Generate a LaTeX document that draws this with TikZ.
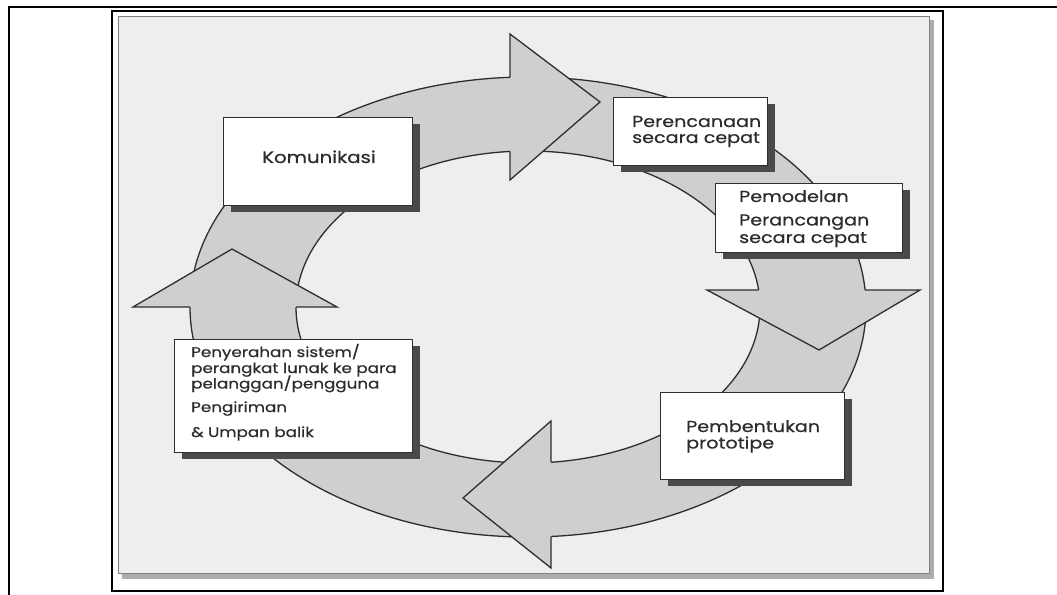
\documentclass[tikz,border=0pt]{standalone}
\usepackage{fontspec}
\setmainfont{Poppins}[FakeStretch=1.2,FakeBold=0.6]
\usetikzlibrary{shadows}
\definecolor{ringgray}{HTML}{CFCFCF}
\definecolor{bggray}{HTML}{EEEEEE}
\definecolor{inkgray}{HTML}{2E2E2E}
\definecolor{shadowgray}{HTML}{4A4A4A}
\definecolor{txtgray}{HTML}{2C2C2C}
\begin{document}
\begin{tikzpicture}[x=1bp,y=-1bp,line join=miter,
  stepbox/.style={draw=inkgray,fill=white,line width=0.9bp,inner sep=0pt,rectangle,
    drop shadow={shadow xshift=8bp,shadow yshift=-7bp,fill=shadowgray,opacity=1}},
  lbl/.style={text=txtgray,font=\fontsize{16}{18}\selectfont,inner sep=0pt,anchor=base west},
  lblbig/.style={lbl,font=\fontsize{16.5}{18}\selectfont},
  lblsmall/.style={lbl,font=\fontsize{14}{16}\selectfont},
  ringline/.style={draw=inkgray,line width=1.3bp},
  headfill/.style={fill=ringgray},
]
\useasboundingbox (0,0) rectangle (1057,595);
\fill[white] (0,0) rectangle (1057,595);
% page lines
\draw[line width=1.6bp] (1057,7) -- (9,7) -- (9,595);
% frame and photo
\draw[line width=2.4bp] (112,11) rectangle (943,591);
\fill[gray!65] (122,20) rectangle (934,579);
\fill[bggray] (118,16) rectangle (929,573);
\draw[gray,line width=0.8bp] (118,16) rectangle (929,573);
% ring
\fill[ringgray,even odd rule] (528,307) ellipse [x radius=338bp,y radius=230bp]
  (528,307) ellipse [x radius=232bp,y radius=156bp];
\draw[ringline] (528,307) ellipse [x radius=338bp,y radius=230bp];
\draw[ringline] (528,307) ellipse [x radius=232bp,y radius=156bp];
% arrowheads
\fill[headfill] (510,34) -- (600,102) -- (510,180) -- cycle;
\draw[ringline] (510,77.3) -- (510,34) -- (600,102) -- (510,180) -- (510,151.5);
\fill[headfill] (707,290) -- (819,350) -- (920,290) -- cycle;
\draw[ringline] (758.6,290) -- (707,290) -- (819,350) -- (920,290) -- (865.1,290);
\fill[headfill] (551,421) -- (463,498) -- (551,568) -- cycle;
\draw[ringline] (551,462.2) -- (551,421) -- (463,498) -- (551,568) -- (551,536.5);
\fill[headfill] (133,307) -- (232,249) -- (337,307) -- cycle;
\draw[ringline] (190,307) -- (133,307) -- (232,249) -- (337,307) -- (296,307);
% boxes
\node[stepbox,minimum width=189bp,minimum height=88bp] (kom) at (317.5,161) {};
\node[stepbox,minimum width=154bp,minimum height=68bp] (per) at (690,131) {};
\node[stepbox,minimum width=187bp,minimum height=69bp] (pem) at (808.5,217.5) {};
\node[stepbox,minimum width=238bp,minimum height=113bp] (pny) at (293,395.5) {};
\node[stepbox,minimum width=184bp,minimum height=87bp] (pbt) at (752,435.5) {};
% labels
\node[lblbig,anchor=base] (komT) at (319,163) {Komunikasi};
\node[lbl] (perT1) at (632,127) {Perencanaan};
\node[lbl] (perT2) at (632,143) {secara cepat};
\node[lbl] (pemT1) at (739,202) {Pemodelan};
\node[lbl] (pemT2) at (739,225.5) {Perancangan};
\node[lbl] (pemT3) at (739,243) {secara cepat};
\node[lblsmall] (pnyT1) at (191,357) {Penyerahan sistem/};
\node[lblsmall] (pnyT2) at (191,373) {perangkat lunak ke para};
\node[lblsmall] (pnyT3) at (191,388.5) {pelanggan/pengguna};
\node[lblsmall] (pnyT4) at (191,412) {Pengiriman};
\node[lblsmall] (pnyT5) at (191,437) {\& Umpan balik};
\node[lbl] (pbtT1) at (686,432) {Pembentukan};
\node[lbl] (pbtT2) at (686,448.5) {prototipe};
\end{tikzpicture}
\end{document}
